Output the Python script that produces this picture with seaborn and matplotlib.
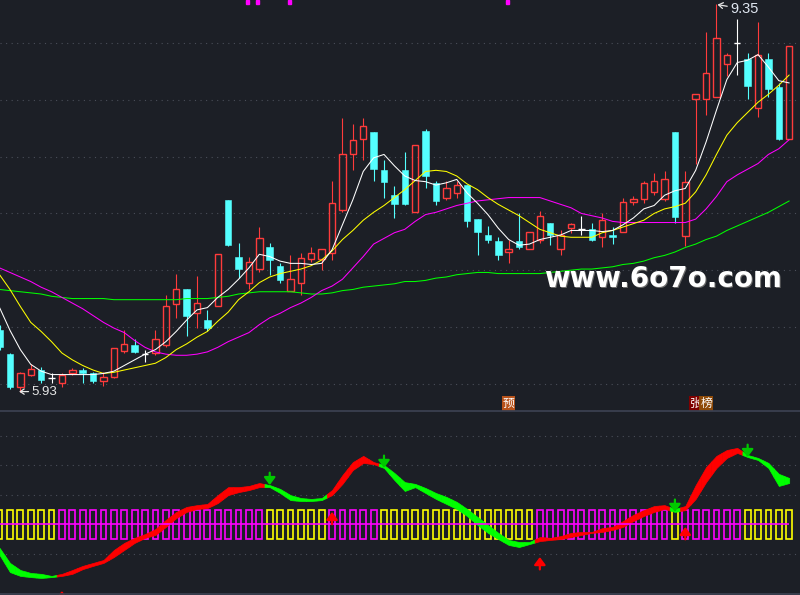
import numpy as np
import pandas as pd
import matplotlib
matplotlib.use("Agg")
import matplotlib.pyplot as plt
import seaborn as sns
from matplotlib.patches import Rectangle
from matplotlib.lines import Line2D

# ---------------- data ----------------
opens  = [6.47, 6.26, 5.97, 6.08, 6.12, 6.05, 6.01, 6.09, 6.12, 6.09,
          6.02, 6.06, 6.29, 6.34, 6.26, 6.27, 6.34, 6.70, 6.83, 6.62,
          6.56, 6.68, 7.62, 7.12, 6.89, 7.01, 7.20, 7.04, 6.82, 6.89,
          7.10, 7.10, 7.15, 7.53, 8.02, 8.16, 8.22, 7.88, 7.66, 7.88,
          7.51, 8.23, 7.77, 7.64, 7.68, 7.75, 7.45, 7.31, 7.26, 7.16,
          7.26, 7.19, 7.27, 7.42, 7.19, 7.37, 7.36, 7.36, 7.29, 7.31,
          7.34, 7.60, 7.63, 7.69, 7.63, 8.22, 7.30, 8.51, 8.51, 8.53,
          8.82, 9.00, 8.86, 8.43, 8.86, 8.61, 8.16]
highs  = [6.52, 6.27, 6.10, 6.17, 6.15, 6.09, 6.09, 6.14, 6.14, 6.10,
          6.10, 6.31, 6.47, 6.39, 6.30, 6.47, 6.78, 6.97, 6.83, 6.95,
          6.65, 7.14, 7.62, 7.24, 7.12, 7.38, 7.24, 7.06, 7.13, 7.15,
          7.20, 7.19, 7.79, 8.34, 8.29, 8.34, 8.22, 7.97, 7.74, 8.04,
          8.10, 8.24, 7.79, 7.79, 7.79, 7.75, 7.45, 7.39, 7.29, 7.27,
          7.50, 7.34, 7.52, 7.42, 7.35, 7.42, 7.48, 7.42, 7.50, 7.38,
          7.64, 7.65, 7.79, 7.86, 7.87, 8.22, 7.87, 8.55, 9.10, 9.35,
          8.91, 9.21, 8.91, 9.19, 8.91, 8.65, 8.98]
lows   = [6.30, 5.95, 5.93, 6.07, 6.01, 6.01, 5.97, 6.08, 6.01, 6.01,
          5.98, 6.05, 6.27, 6.27, 6.19, 6.25, 6.32, 6.58, 6.42, 6.49,
          6.46, 6.68, 7.21, 6.93, 6.83, 6.98, 6.96, 6.89, 6.82, 6.78,
          7.07, 7.00, 7.09, 7.51, 7.88, 7.97, 7.79, 7.64, 7.46, 7.57,
          7.51, 7.72, 7.57, 7.62, 7.64, 7.38, 7.13, 7.24, 7.09, 7.06,
          7.19, 7.19, 7.24, 7.22, 7.13, 7.33, 7.31, 7.26, 7.20, 7.23,
          7.34, 7.57, 7.59, 7.66, 7.61, 7.42, 7.21, 7.94, 8.37, 8.53,
          8.71, 8.72, 8.51, 8.35, 8.53, 8.15, 8.16]
closes = [6.32, 5.97, 6.09, 6.13, 6.03, 6.05, 6.08, 6.12, 6.09, 6.02,
          6.06, 6.31, 6.35, 6.28, 6.26, 6.39, 6.68, 6.83, 6.60, 6.71,
          6.49, 7.14, 7.22, 7.01, 7.07, 7.28, 7.09, 6.91, 6.92, 7.11,
          7.15, 7.19, 7.59, 8.02, 8.15, 8.27, 7.89, 7.78, 7.58, 7.58,
          8.10, 7.83, 7.61, 7.72, 7.75, 7.43, 7.34, 7.27, 7.13, 7.19,
          7.20, 7.34, 7.48, 7.31, 7.31, 7.41, 7.36, 7.27, 7.44, 7.29,
          7.60, 7.63, 7.77, 7.79, 7.80, 7.47, 7.78, 8.55, 8.74, 9.05,
          8.90, 9.00, 8.62, 8.90, 8.60, 8.16, 8.98]

ma5  = [6.67, 6.47, 6.30, 6.17, 6.11, 6.08, 6.08, 6.08, 6.08, 6.08,
        6.09, 6.11, 6.16, 6.21, 6.26, 6.30, 6.37, 6.46, 6.56, 6.65,
        6.67, 6.76, 6.83, 6.92, 7.02, 7.14, 7.12, 7.08, 7.06, 7.06,
        7.05, 7.06, 7.18, 7.40, 7.62, 7.87, 7.99, 8.02, 7.92, 7.83,
        7.79, 7.78, 7.75, 7.77, 7.80, 7.68, 7.59, 7.49, 7.37, 7.27,
        7.22, 7.23, 7.27, 7.29, 7.31, 7.35, 7.35, 7.35, 7.34, 7.35,
        7.40, 7.46, 7.54, 7.57, 7.66, 7.70, 7.72, 7.88, 8.13, 8.41,
        8.68, 8.83, 8.85, 8.90, 8.79, 8.67, 8.65]
ma10 = [6.96, 6.83, 6.68, 6.54, 6.46, 6.37, 6.27, 6.21, 6.16, 6.12,
        6.09, 6.10, 6.12, 6.14, 6.16, 6.18, 6.23, 6.30, 6.35, 6.41,
        6.46, 6.55, 6.63, 6.74, 6.81, 6.89, 6.94, 6.97, 6.99, 7.01,
        7.04, 7.09, 7.17, 7.27, 7.35, 7.44, 7.51, 7.57, 7.64, 7.71,
        7.79, 7.87, 7.88, 7.87, 7.83, 7.76, 7.71, 7.64, 7.58, 7.53,
        7.48, 7.42, 7.36, 7.33, 7.30, 7.29, 7.29, 7.29, 7.33, 7.35,
        7.38, 7.41, 7.44, 7.50, 7.54, 7.56, 7.59, 7.69, 7.84, 8.02,
        8.19, 8.30, 8.39, 8.48, 8.55, 8.63, 8.72]
ma20 = [7.02, 6.98, 6.94, 6.90, 6.85, 6.81, 6.76, 6.71, 6.66, 6.60,
        6.54, 6.49, 6.45, 6.38, 6.32, 6.28, 6.26, 6.25, 6.25, 6.26,
        6.28, 6.32, 6.37, 6.41, 6.45, 6.52, 6.58, 6.62, 6.67, 6.71,
        6.76, 6.82, 6.86, 6.92, 7.02, 7.12, 7.23, 7.28, 7.33, 7.36,
        7.43, 7.49, 7.51, 7.54, 7.57, 7.59, 7.61, 7.62, 7.63, 7.64,
        7.64, 7.64, 7.64, 7.61, 7.58, 7.55, 7.50, 7.48, 7.46, 7.43,
        7.42, 7.42, 7.42, 7.42, 7.42, 7.42, 7.42, 7.45, 7.54, 7.65,
        7.78, 7.84, 7.89, 7.94, 8.02, 8.07, 8.15]
ma60 = [6.83, 6.82, 6.81, 6.80, 6.79, 6.77, 6.76, 6.75, 6.75, 6.75,
        6.75, 6.74, 6.74, 6.74, 6.74, 6.74, 6.74, 6.74, 6.75, 6.75,
        6.75, 6.76, 6.77, 6.79, 6.80, 6.81, 6.81, 6.81, 6.81, 6.80,
        6.79, 6.79, 6.80, 6.82, 6.83, 6.85, 6.86, 6.87, 6.88, 6.90,
        6.90, 6.91, 6.93, 6.94, 6.96, 6.97, 6.98, 6.98, 6.97, 6.97,
        6.97, 6.97, 6.97, 6.98, 6.99, 7.00, 7.01, 7.01, 7.02, 7.03,
        7.05, 7.06, 7.08, 7.11, 7.13, 7.16, 7.20, 7.23, 7.27, 7.30,
        7.35, 7.39, 7.43, 7.47, 7.51, 7.56, 7.61]

band_upper = [-0.80, -1.31, -1.55, -1.65, -1.68, -1.75, -1.68, -1.55, -1.41, -1.31,
              -1.21, -0.87, -0.63, -0.46, -0.33, -0.16, 0.15, 0.42, 0.59, 0.65,
              0.69, 0.99, 1.26, 1.26, 1.30, 1.40, 1.33, 1.20, 0.99, 0.89,
              0.86, 0.89, 1.16, 1.67, 2.11, 2.32, 2.11, 2.01, 1.74, 1.43,
              1.37, 1.23, 1.06, 0.93, 0.76, 0.52, 0.25, -0.02, -0.29, -0.53,
              -0.60, -0.60, -0.43, -0.46, -0.40, -0.29, -0.26, -0.26, -0.13, -0.09,
              0.11, 0.32, 0.48, 0.62, 0.65, 0.52, 0.62, 1.33, 1.94, 2.32,
              2.52, 2.59, 2.35, 2.25, 2.08, 1.71, 1.57]
band_lower = [-1.04, -1.62, -1.75, -1.79, -1.82, -1.79, -1.75, -1.68, -1.52, -1.41,
              -1.31, -1.11, -0.87, -0.63, -0.46, -0.36, -0.09, 0.21, 0.42, 0.52,
              0.55, 0.72, 0.99, 1.09, 1.16, 1.26, 1.26, 1.06, 0.82, 0.79,
              0.79, 0.82, 0.99, 1.37, 1.84, 2.08, 2.04, 1.91, 1.50, 1.13,
              1.26, 1.06, 0.86, 0.69, 0.52, 0.28, -0.02, -0.29, -0.50, -0.70,
              -0.77, -0.67, -0.57, -0.53, -0.50, -0.43, -0.36, -0.29, -0.26, -0.19,
              -0.09, 0.11, 0.28, 0.42, 0.52, 0.42, 0.48, 0.86, 1.43, 1.91,
              2.25, 2.42, 2.28, 2.18, 1.91, 1.30, 1.40]
# 1 = rising phase (red ribbon, magenta box), 0 = falling phase (green ribbon, yellow box)
trend_state = [0]*6 + [1]*20 + [0]*6 + [1]*5 + [0]*15 + [1]*13 + [0] + [1]*6 + [0]*5

buy_idx  = [6, 32, 52, 66]
buy_tip  = [-2.26, 0.42, -1.11, -0.09]
sell_idx = [26, 37, 65, 72]
sell_tip = [1.33, 1.91, 0.42, 2.28]

low_idx, low_text = 2, "5.93"
high_idx, high_text = 69, "9.35"
tag_idx   = [49, 67, 68]
tag_text  = ["预", "张", "榜"]
tag_color = ["#b8521a", "#7e0000", "#8e4a08"]
tag_level = 5.823

price_grid = [6.0, 6.5, 7.0, 7.5, 8.0, 8.5, 9.0]
ind_grid = [-1, 1, 2, 3]

# ---------------- style ----------------
BG = "#1c1f26"
RED = "#ff3b3b"
CYAN = "#54ffff"
GRID = "#4a4e59"
sns.set_theme(style="dark", rc={"figure.facecolor": BG, "axes.facecolor": BG,
                                "savefig.facecolor": BG})
plt.rcParams["font.family"] = ["DejaVu Sans", "Noto Sans CJK SC"]

n = len(closes)
idx = np.arange(n)

fig = plt.figure(figsize=(8, 5.95), dpi=100)
fig.patch.set_facecolor(BG)
ax = fig.add_axes([0, 1 - 411 / 595, 1, 411 / 595])
ax2 = fig.add_axes([0, 0, 1, 183 / 595])
for a in (ax, ax2):
    a.set_facecolor(BG)
    a.set_xlim(0.04, 77.04)
    a.set_xticks([]); a.set_yticks([])
    for s in a.spines.values():
        s.set_visible(False)
ax.set_ylim(5.759, 9.381)
ax2.set_ylim(-2.397, 3.807)

# ---------------- top panel ----------------
for g in price_grid:
    ax.axhline(g, color=GRID, lw=0.8, ls=(0, (1, 4)), zorder=0)

o = np.array(opens); c = np.array(closes); h = np.array(highs); l = np.array(lows)
up = c > o
dn = c < o
fl = c == o
body_w = 0.62

# falling candles (filled cyan)
ax.vlines(idx[dn], l[dn], h[dn], color=CYAN, lw=0.8, zorder=3)
ax.bar(idx[dn], (o - c)[dn], bottom=c[dn], width=body_w, color=CYAN,
       edgecolor=CYAN, lw=0.4, zorder=4)
# rising candles (hollow red)
ax.vlines(idx[up], c[up], h[up], color=RED, lw=0.8, zorder=3)
ax.vlines(idx[up], l[up], o[up], color=RED, lw=0.8, zorder=3)
ax.bar(idx[up], (c - o)[up], bottom=o[up], width=body_w, facecolor="none",
       edgecolor=RED, lw=1.0, zorder=4)
# flat candles (white cross)
ax.vlines(idx[fl], l[fl], h[fl], color="white", lw=0.8, zorder=3)
ax.hlines(c[fl], idx[fl] - body_w / 2, idx[fl] + body_w / 2, color="white",
          lw=1.0, zorder=4)

ma_df = pd.DataFrame({
    "idx": np.concatenate([idx] * 4),
    "value": ma60 + ma20 + ma10 + ma5,
    "line": ["MA60"] * n + ["MA20"] * n + ["MA10"] * n + ["MA5"] * n,
})
sns.lineplot(data=ma_df, x="idx", y="value", hue="line", ax=ax,
             palette={"MA5": "#ffffff", "MA10": "#ffff00", "MA20": "#ff00ff",
                      "MA60": "#00ff00"},
             hue_order=["MA60", "MA20", "MA10", "MA5"],
             legend=False, linewidth=0.75, estimator=None, sort=False, zorder=5)
ax.set_xlabel(""); ax.set_ylabel("")
ax.set_xticks([]); ax.set_yticks([])

txt_col = "#e6e6e6"
ax.annotate(low_text, xy=(low_idx - 0.12, lows[low_idx]),
            xytext=(low_idx + 1.1, lows[low_idx]), ha="left", va="center",
            color=txt_col, fontsize=9.5, family="Liberation Sans",
            arrowprops=dict(arrowstyle="->,head_length=0.3,head_width=0.2",
                            color=txt_col, lw=0.9, shrinkA=0, shrinkB=0), zorder=6)
ax.annotate(high_text, xy=(high_idx + 0.1, highs[high_idx] - 0.01),
            xytext=(high_idx + 1.35, highs[high_idx] - 0.05), ha="left", va="center",
            color="#dfe6f0", fontsize=10.5, family="Liberation Sans",
            arrowprops=dict(arrowstyle="->,head_length=0.3,head_width=0.2",
                            color=txt_col, lw=0.9, shrinkA=0, shrinkB=0), zorder=6)

for i, t, col in zip(tag_idx, tag_text, tag_color):
    ax.text(i, tag_level, t, ha="center", va="center", color="white",
            fontsize=8.5, family="Noto Sans CJK SC", zorder=6,
            bbox=dict(boxstyle="square,pad=0.08", fc=col, ec="none"))

# watermark
fig.text(544 / 800 + 0.0018, 1 - 287 / 595 - 0.0025, "www.6o7o.com", color="#6b6b6b",
         fontsize=20, fontweight="bold", ha="left", va="baseline", zorder=9)
fig.text(544 / 800, 1 - 287 / 595, "www.6o7o.com", color="white",
         fontsize=20, fontweight="bold", ha="left", va="baseline", zorder=10)

# cut-off magenta marks at the very top
for px in (246, 256, 288, 506):
    fig.patches.append(Rectangle((px / 800, 1 - 3.5 / 595), 3.2 / 800, 3.5 / 595,
                                 transform=fig.transFigure, color="#ff00ff", zorder=10))

# panel separators
fig.add_artist(Line2D([0, 1], [1 - 411.3 / 595] * 2, color="#3b4050", lw=1.3))
fig.add_artist(Line2D([0, 1], [1 - 593.6 / 595] * 2, color="#3b4050", lw=1.3))

# ---------------- bottom panel ----------------
for g in ind_grid:
    ax2.axhline(g, color=GRID, lw=0.8, ls=(0, (1, 4)), zorder=0)

state = np.array(trend_state)
box_cols = np.where(state == 1, "#ff00ff", "#ffff00")
ax2.bar(idx, 0.97, bottom=-0.485, width=0.56, facecolor="none", edgecolor=box_cols,
        lw=1.2, zorder=2)

bu = np.array(band_upper); bl = np.array(band_lower)
for i in range(n):
    col = "#ff0000" if state[i] == 1 else "#00ff00"
    xs = [i]; ys_u = [bu[i]]; ys_l = [bl[i]]
    if i > 0:
        xs = [i - 0.5] + xs
        ys_u = [(bu[i - 1] + bu[i]) / 2] + ys_u
        ys_l = [(bl[i - 1] + bl[i]) / 2] + ys_l
    if i < n - 1:
        xs = xs + [i + 0.5]
        ys_u = ys_u + [(bu[i] + bu[i + 1]) / 2]
        ys_l = ys_l + [(bl[i] + bl[i + 1]) / 2]
    ax2.fill_between(xs, ys_l, ys_u, color=col, lw=0.5, edgecolor=col, zorder=3)

ax2.hlines(0, idx[0] - 0.5, idx[-1], color="#ff00ff", lw=1.2, zorder=4)

arrow_len = 0.42
for i, tip in zip(sell_idx, sell_tip):
    ax2.annotate("", xy=(i, tip), xytext=(i, tip + arrow_len),
                 arrowprops=dict(arrowstyle="-|>,head_length=0.32,head_width=0.24",
                                 color="#00c800", lw=1.6, mutation_scale=14,
                                 shrinkA=0, shrinkB=0), zorder=6)
for i, tip in zip(buy_idx, buy_tip):
    ax2.annotate("", xy=(i, tip), xytext=(i, tip - arrow_len),
                 arrowprops=dict(arrowstyle="-|>,head_length=0.32,head_width=0.24",
                                 color="#ff0000", lw=1.6, mutation_scale=14,
                                 shrinkA=0, shrinkB=0), zorder=6)

fig.savefig("out.png", dpi=100, facecolor=BG)
